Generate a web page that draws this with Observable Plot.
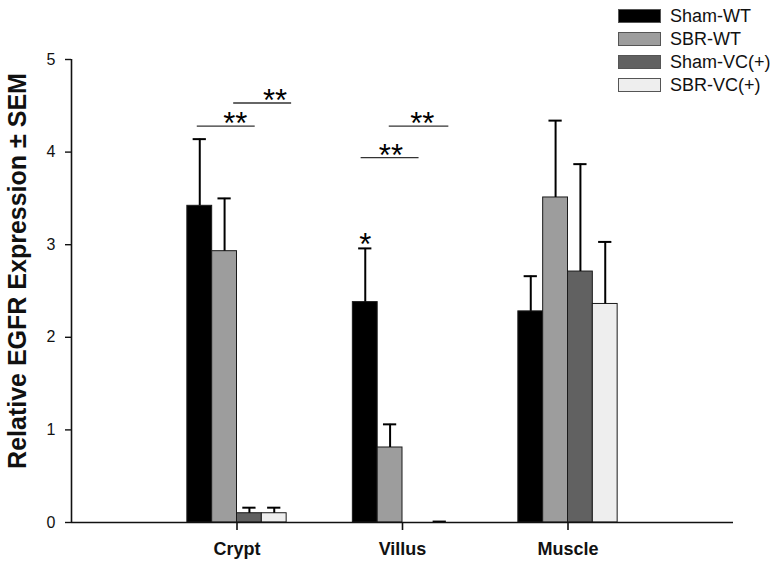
<!DOCTYPE html>
<html>
<head>
<meta charset="utf-8">
<script src="https://cdn.jsdelivr.net/npm/d3@7"></script>
<script src="https://cdn.jsdelivr.net/npm/@observablehq/plot@0.6"></script>
<style>
  html, body { margin: 0; padding: 0; background: #fff; }
  #wrap { position: relative; width: 779px; height: 566px; font-family: "Liberation Sans", Arial, sans-serif; }
  #wrap svg { position: absolute; left: 0; top: 0; }
  #legend { position: absolute; left: 618px; top: 9px; }
  .row { display: flex; align-items: center; height: 14px; margin-bottom: 9px; }
  .sw { width: 43px; height: 14px; box-sizing: border-box; border: 1px solid #555; }
  .lb { margin-left: 9px; font-size: 18px; color: #111; line-height: 14px; white-space: nowrap; }
</style>
</head>
<body>
<div id="wrap"><div id="legend"></div></div>
<script>
// ---- data ----
const categories = ["Crypt", "Villus", "Muscle"];
const seriesNames = ["Sham-WT", "SBR-WT", "Sham-VC(+)", "SBR-VC(+)"];

const shamWT    = [3.42, 2.38, 2.28];
const shamWTsem = [0.72, 0.58, 0.38];
const sbrWT     = [2.93, 0.81, 3.51];
const sbrWTsem  = [0.57, 0.25, 0.83];
const shamVC    = [0.10, 0.00, 2.71];
const shamVCsem = [0.06, 0.00, 1.16];
const sbrVC     = [0.10, 0.00, 2.36];
const sbrVCsem  = [0.06, 0.01, 0.67];

const yTicks = [0, 1, 2, 3, 4, 5];
const yLabel = "Relative EGFR Expression \u00B1 SEM";

// significance brackets (offsets in category units from the group centre)
const sigGroup = ["Crypt", "Crypt", "Villus", "Villus"];
const sigFrom  = [-0.24, -0.02, -0.25, -0.08];
const sigTo    = [0.11, 0.33, 0.10, 0.28];
const sigY     = [4.28, 4.53, 3.94, 4.28];
const sigAt    = [-0.01, 0.23, -0.07, 0.12];
const sigText  = ["**", "**", "**", "**"];
// single star above a bar's error bar
const starGroup = ["Villus"];
const starSeries = ["Sham-WT"];
const starText = ["*"];

const seriesColors = ["#000000", "#9d9d9d", "#616161", "#eeeeee"];

// ---- build table ----
const values = [shamWT, sbrWT, shamVC, sbrVC];
const sems = [shamWTsem, sbrWTsem, shamVCsem, sbrVCsem];
const barW = 0.15;
const rows = [];
categories.forEach((c, i) => {
  seriesNames.forEach((s, j) => {
    const center = i + 1 + (j - 1.5) * barW;
    rows.push({category: c, series: s, value: values[j][i], sem: sems[j][i],
      center, x1: center - barW / 2, x2: center + barW / 2, top: values[j][i] + sems[j][i]});
  });
});
const errRows = rows.filter(d => d.sem > 0);
const capW = 0.04;

const sig = sigGroup.map((g, k) => {
  const c = categories.indexOf(g) + 1;
  return {x1: c + sigFrom[k], x2: c + sigTo[k], y: sigY[k], lx: c + sigAt[k], text: sigText[k]};
});
const stars = starGroup.map((g, k) => {
  const r = rows.find(d => d.category === g && d.series === starSeries[k]);
  return {x: r.center, y: r.top, text: starText[k]};
});

const font = "'Liberation Sans', Arial, sans-serif";

const chart = Plot.plot({
  width: 779,
  height: 566,
  marginLeft: 71,
  marginRight: 46,
  marginTop: 59,
  marginBottom: 44,
  style: {fontFamily: font, background: "transparent", color: "#111"},
  x: {domain: [0, 4], label: null},
  y: {domain: [0, 5], label: null},
  color: {domain: seriesNames, range: seriesColors},
  marks: [
    Plot.rect(rows, {x1: "x1", x2: "x2", y1: 0, y2: "value", fill: "series", stroke: "#1a1a1a", strokeWidth: 1}),
    Plot.ruleX(errRows, {x: "center", y1: "value", y2: "top", stroke: "#000", strokeWidth: 2}),
    Plot.ruleY(errRows, {y: "top", x1: d => d.center - capW, x2: d => d.center + capW, stroke: "#000", strokeWidth: 2}),
    Plot.ruleY(sig, {y: "y", x1: "x1", x2: "x2", stroke: "#333", strokeWidth: 1.3}),
    Plot.text(sig, {x: "lx", y: "y", text: "text", fontSize: 31, fill: "#000", dy: -2}),
    Plot.text(stars, {x: "x", y: "y", text: "text", fontSize: 31, fill: "#000", dy: -3}),
    Plot.ruleX([0], {stroke: "#111", strokeWidth: 1.6}),
    Plot.ruleY([0], {stroke: "#111", strokeWidth: 1.6}),
    Plot.axisY({ticks: yTicks, tickFormat: d => String(d), tickSize: 6, tickPadding: 10, fontSize: 16, label: null, stroke: "#111", strokeWidth: 1.4}),
    Plot.axisX({ticks: [1, 2, 3], tickFormat: d => categories[d - 1], tickSize: 8, tickPadding: 12,
      fontSize: 18, fontWeight: "bold", label: null, stroke: "#111", strokeWidth: 1.6}),
    Plot.text([yLabel], {text: d => d, frameAnchor: "left", textAnchor: "middle", rotate: -90, dx: -54, dy: -20,
      fontSize: 25, fontWeight: "bold", fill: "#111"})
  ]
});
document.getElementById("wrap").appendChild(chart);

const legend = document.getElementById("legend");
seriesNames.forEach((s, j) => {
  const row = document.createElement("div");
  row.className = "row";
  const sw = document.createElement("div");
  sw.className = "sw";
  sw.style.background = seriesColors[j];
  const lb = document.createElement("div");
  lb.className = "lb";
  lb.textContent = s;
  row.appendChild(sw); row.appendChild(lb);
  legend.appendChild(row);
});
</script>
</body>
</html>
